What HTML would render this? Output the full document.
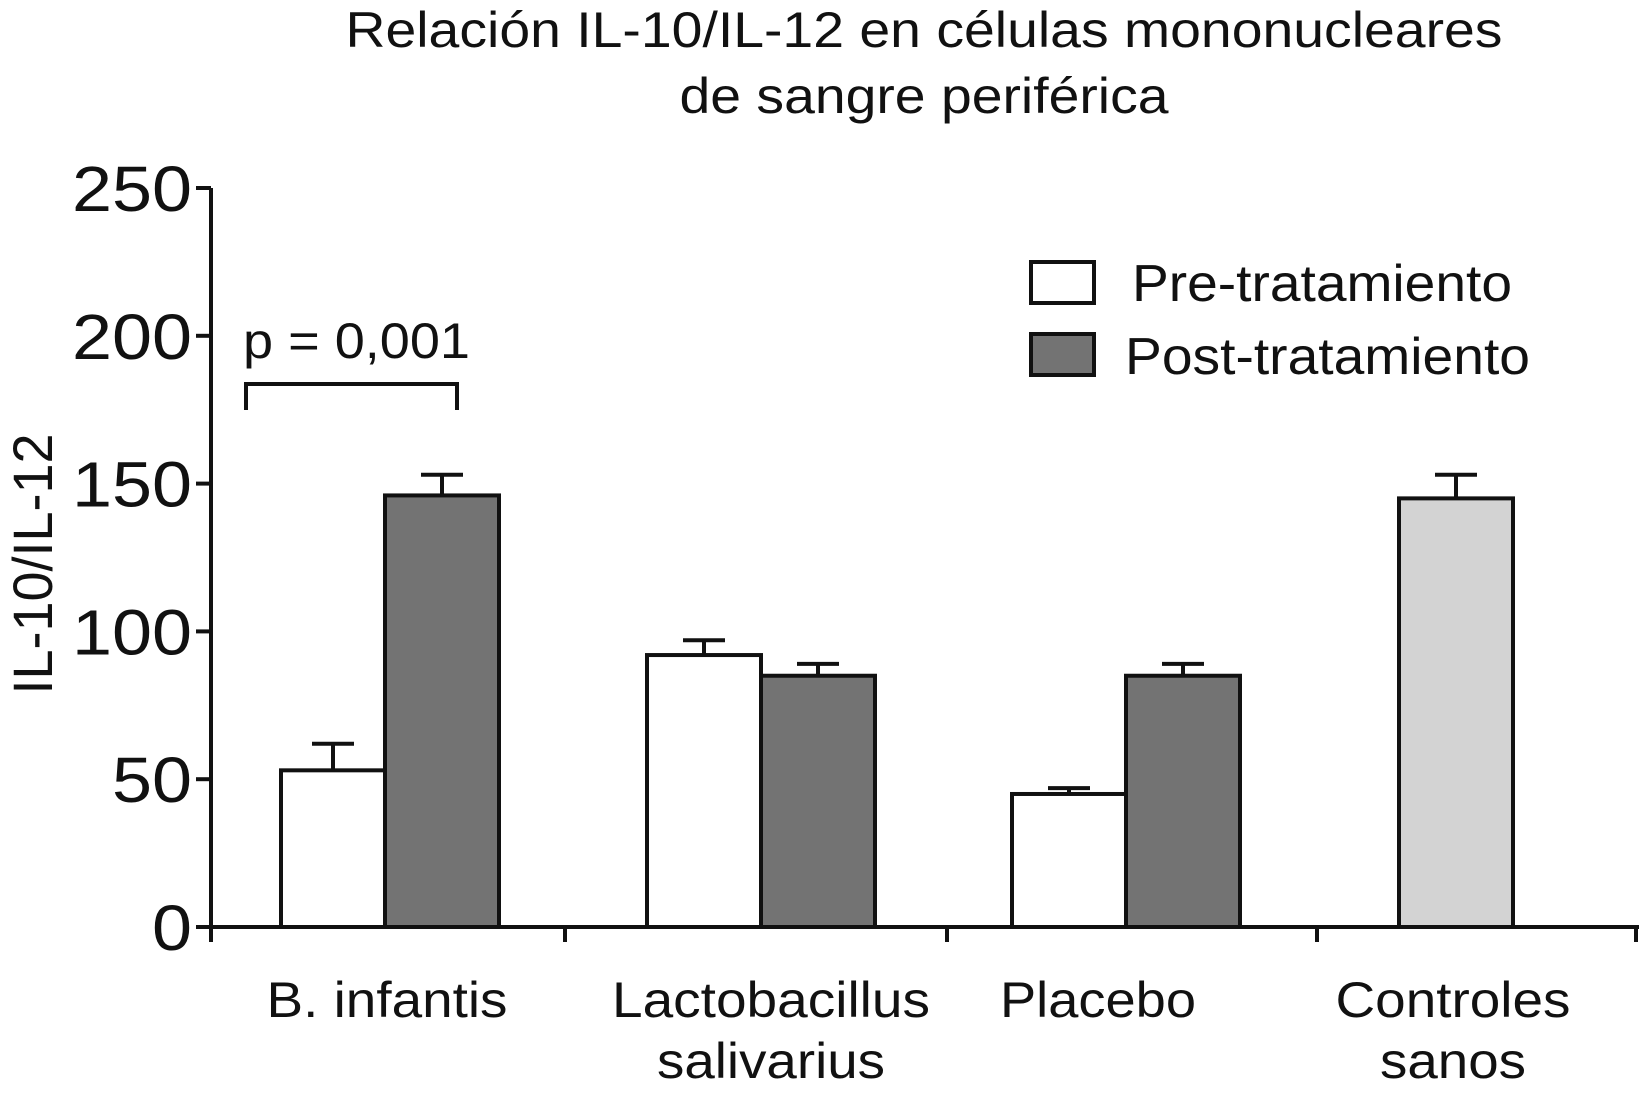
<!DOCTYPE html>
<html><head><meta charset="utf-8"><style>
html,body{margin:0;padding:0;background:#fff}
svg{display:block;font-family:"Liberation Sans",Arial,sans-serif}
</style></head><body>
<svg id="chart" width="1639" height="1101" viewBox="0 0 1639 1101">
<g>
<text x="924" y="47" font-size="50" text-anchor="middle" textLength="1157" lengthAdjust="spacingAndGlyphs" fill="#111">Relación IL-10/IL-12 en células mononucleares</text>
<text x="924" y="113" font-size="50" text-anchor="middle" textLength="489" lengthAdjust="spacingAndGlyphs" fill="#111">de sangre periférica</text>
</g>
<text transform="translate(52,564) rotate(-90)" font-size="56" text-anchor="middle" textLength="261" lengthAdjust="spacingAndGlyphs" fill="#111">IL-10/IL-12</text>
<g id="axes"></g>
<g id="bars"></g>
<g>
<path d="M246,410 V384 H457 V410" fill="none" stroke="#111" stroke-width="4"/>
<text x="243" y="358" font-size="50" textLength="227" lengthAdjust="spacingAndGlyphs" fill="#111">p = 0,001</text>
</g>
<g>
<rect x="1031" y="262" width="63" height="41" fill="#fff" stroke="#111" stroke-width="4"/>
<text x="1132" y="301" font-size="52" textLength="380" lengthAdjust="spacingAndGlyphs" fill="#111">Pre-tratamiento</text>
<rect x="1031" y="334" width="63" height="41" fill="#737373" stroke="#111" stroke-width="4"/>
<text x="1125" y="374" font-size="52" textLength="405" lengthAdjust="spacingAndGlyphs" fill="#111">Post-tratamiento</text>
</g>
</svg>
<script>
const categories = [["B. infantis"],["Lactobacillus","salivarius"],["Placebo"],["Controles","sanos"]];
const preValues = [53, 92, 45, null];
const preErrors = [9, 5, 2, null];
const postValues = [146, 85, 85, 145];
const postErrors = [7, 4, 4, 8];
const yTicks = [0, 50, 100, 150, 200, 250];

const NS = "http://www.w3.org/2000/svg";
const y0 = 927, yTop = 188, yMax = 250, axisX = 211;
function yScale(v){ return y0 - (v / yMax) * (y0 - yTop); }
const groupLeft = [281, 647, 1012, 1399];
const preW = [104, 114, 114, 0];
const barW = 114;
const labelCX = [387, 771, 1098, 1453];
const labelLen = [[241],[318,228],[196],[235,146]];
const sepTicks = [565, 947, 1317, 1636];
function mk(tag, attrs, parent){ const e = document.createElementNS(NS, tag); for (const k in attrs) e.setAttribute(k, attrs[k]); parent.appendChild(e); return e; }

const axes = document.getElementById('axes');
const yAxis = mk('line', {x1: axisX, y1: yTop, x2: axisX, y2: y0 + 15, stroke: '#111', 'stroke-width': 4}, axes);


const xAxis = mk('line', {x1: axisX - 15, y1: y0, x2: 1639, y2: y0, stroke: '#111', 'stroke-width': 4}, axes);


yTicks.forEach(t => {
  const y = yScale(t);
  const tk = mk('line', {x1: axisX - 15, y1: y, x2: axisX, y2: y, stroke: '#111', 'stroke-width': 4}, axes);
  
  
  const s = String(t);
  const lb = mk('text', {x: 192, y: y + 23, 'font-size': 64, 'text-anchor': 'end', fill: '#111', textLength: 40 * s.length, lengthAdjust: 'spacingAndGlyphs'}, axes);
  lb.textContent = s;
  
  
});
sepTicks.forEach(x => {
  const tk = mk('line', {x1: x, y1: y0, x2: x, y2: y0 + 15, stroke: '#111', 'stroke-width': 4}, axes);
  
  
});
categories.forEach((lines, i) => {
  lines.forEach((s, j) => {
    const lb = mk('text', {x: labelCX[i], y: 1017 + j * 61, 'font-size': 50, 'text-anchor': 'middle', fill: '#111', textLength: labelLen[i][j], lengthAdjust: 'spacingAndGlyphs'}, axes);
    lb.textContent = s;
    
    
  });
});

const bars = document.getElementById('bars');
function drawBar(x, w, v, err, fill, name){
  const y = yScale(v);
  const cx = x + w / 2;
  const ey = yScale(v + err);
  const e1 = mk('line', {x1: cx, y1: y, x2: cx, y2: ey, stroke: '#111', 'stroke-width': 4}, bars);
  
  
  const e2 = mk('line', {x1: cx - 21, y1: ey, x2: cx + 21, y2: ey, stroke: '#111', 'stroke-width': 4}, bars);
  
  
  const r = mk('rect', {x: x, y: y, width: w, height: y0 - y, fill: fill, stroke: '#111', 'stroke-width': 4}, bars);
  
  
}
categories.forEach((c, i) => {
  if (preValues[i] !== null) {
    drawBar(groupLeft[i], preW[i], preValues[i], preErrors[i], '#fff', 'bar-pre-' + i);
    drawBar(groupLeft[i] + preW[i], barW, postValues[i], postErrors[i], '#737373', 'bar-post-' + i);
  } else {
    drawBar(groupLeft[i], barW, postValues[i], postErrors[i], '#d3d3d3', 'bar-control-' + i);
  }
});
</script>
</body></html>
